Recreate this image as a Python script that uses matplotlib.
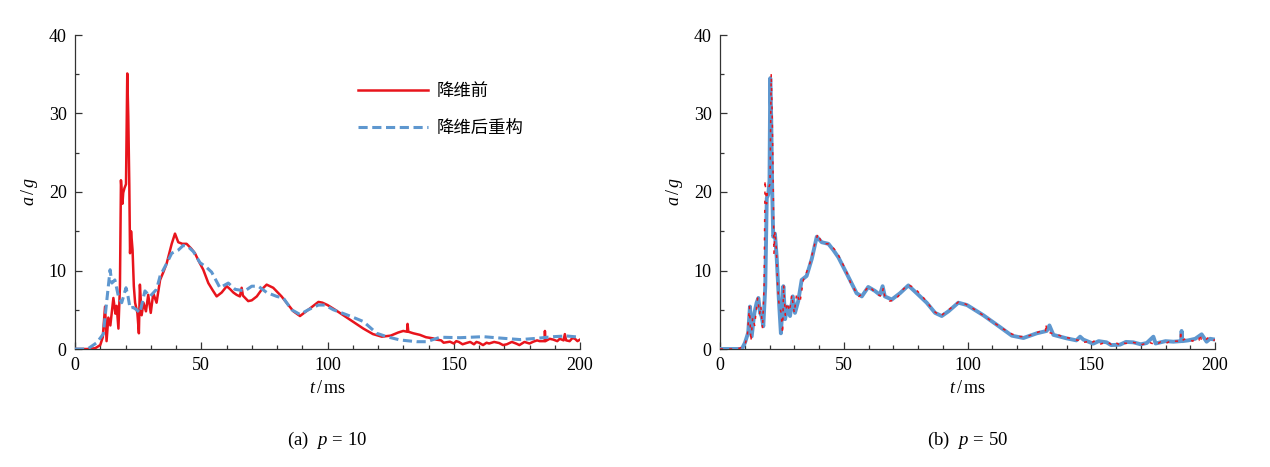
import matplotlib
matplotlib.use("Agg")
import matplotlib.pyplot as plt
from matplotlib.ticker import MultipleLocator

plt.rcParams['font.family'] = ['Liberation Serif', 'Noto Sans CJK SC']
plt.rcParams['mathtext.fontset'] = 'custom'
plt.rcParams['mathtext.rm'] = 'Liberation Serif'
plt.rcParams['mathtext.it'] = 'Liberation Serif:italic'

# original signal (before dimension reduction)
t_orig = [0, 5, 8, 10, 11, 11.9, 12.5, 13.2, 14, 15.2, 16, 16.5, 17.2, 17.8, 18.2, 18.8,
          19.1, 19.6, 20.2, 20.7, 21.1, 21.5, 21.8, 22.2, 22.8, 23.3, 23.8, 24.7, 25.3,
          25.7, 26.4, 27.1, 28.1, 29.0, 30.0, 31.0, 32.3, 33.7, 35, 36.3, 38.3, 39.6,
          40.9, 42.5, 44.2, 46, 47.5, 49, 50.8, 52.8, 54.5, 56.1, 58.1, 60.1, 61.5, 62.7,
          64, 65.3, 66.0, 66.5, 68.6, 70, 72.0, 74, 75.9, 78.5, 80, 81.8, 84, 86.5, 89.1,
          92.4, 96.4, 98, 100, 103, 106.3, 110, 114.2, 118, 121.5, 125, 128, 130, 131.5,
          131.7, 132, 134, 136.6, 139, 141.9, 143, 145, 146, 148.5, 150, 151, 152, 153.5,
          155, 156.5, 158, 159, 160, 161.6, 163, 164, 166, 168, 169.5, 171, 173, 174.8,
          176, 178, 180, 181.5, 183, 184, 186, 186.1, 186.3, 188, 189.4, 191, 192, 193.5,
          194, 194.5, 195.9, 197, 198, 199, 200]
a_orig = [0, 0, 0.1, 0.5, 1.5, 5.4, 1.0, 4.0, 3.0, 6.5, 4.5, 5.5, 2.6, 8, 21.5, 18.5,
          19.9, 20.5, 21, 35.1, 29.6, 21, 12.2, 15, 12.6, 8, 5.9, 4.6, 2.0,
          8.2, 4.3, 5.9, 4.8, 6.9, 4.6, 7.1, 5.9, 8.8, 9.8, 10.9, 13.4, 14.7,
          13.6, 13.4, 13.4, 12.8, 12.2, 11.2, 10.1, 8.4, 7.5, 6.7, 7.2, 8.0, 7.6, 7.2,
          6.9, 6.7, 7.8, 6.8, 6.1, 6.2, 6.7, 7.6, 8.2, 7.8, 7.3, 6.7, 5.8, 4.8, 4.2,
          5.0, 6.0, 5.9, 5.6, 5.0, 4.3, 3.5, 2.6, 1.9, 1.57, 1.7, 2.1, 2.3, 2.2,
          3.2, 2.2, 2.0, 1.8, 1.5, 1.35, 1.2, 1.1, 0.8, 0.93, 0.7, 1.0, 0.9, 0.6,
          0.76, 0.9, 0.6, 0.9, 0.8, 0.5, 0.8, 0.7, 0.9, 0.76, 0.5, 0.6, 0.9, 0.68,
          0.5, 0.9, 0.7, 0.93, 1.1, 1.0, 1.0, 2.3, 1.0, 1.3, 1.2, 1.0, 1.3, 1.1,
          1.9, 1.1, 1.0, 1.4, 1.3, 1.0, 1.2]

# reconstruction, p = 10
t_p10 = [0, 5, 8.6, 11.2, 12.5, 13.9, 14.6, 15.8, 17.2, 18.5, 20.2, 21, 21.8, 23, 24.4,
         25.7, 27.7, 29.7, 32.3, 33.7, 36.3, 38.3, 40.9, 42.9, 44.9, 46.9, 49.5, 52.1,
         54.1, 57.4, 60.7, 63.4, 67.3, 70, 72.6, 75.9, 79.9, 82.5, 85.8, 89.1, 92.4,
         96.4, 99, 102.3, 108.9, 114.2, 119.5, 123.5, 128.7, 135.3, 139.3, 144.6,
         152.5, 161.7, 169.7, 176.3, 182.9, 189.4, 194.7, 200]
a_p10 = [0, 0, 0.8, 1.9, 5.9, 10.1, 8.4, 8.8, 6.7, 5.9, 7.8, 6.7, 5.2, 5.3, 5.0,
         4.6, 7.4, 6.7, 7.6, 9.3, 10.9, 12.2, 12.6, 13.2, 13.0, 12.4, 11.0, 10.4,
         9.8, 7.8, 8.4, 7.6, 7.4, 8.0, 8.0, 7.2, 6.7, 6.5, 5.0, 4.4, 5.0,
         5.6, 5.6, 5.0, 4.2, 3.5, 2.0, 1.57, 1.15, 0.93, 0.93, 1.5,
         1.44, 1.57, 1.36, 1.2, 1.36, 1.57, 1.66, 1.5]

# reconstruction, p = 50
t_p50 = [0, 8.8, 10.1, 11.4, 12.1, 12.8, 13.9, 14.8, 15.5, 16.2, 16.8, 17.5, 18.3, 18.9,
         19.5, 20.0, 20.3, 20.7, 21.1, 21.5, 22.2, 22.9, 23.8, 24.6, 25.1, 25.6, 26.3,
         27.2, 28.3, 29.4, 30.3, 31.6, 33, 35, 37.1, 39.1, 41.1, 43.8, 45.8, 47.8, 51.2,
         55.2, 57.3, 59.9, 62.6, 64.6, 65.7, 66.6, 69.4, 72.7, 76.1, 79.5, 83.5, 86.9,
         89.6, 92.3, 96.3, 99.8, 106.4, 113.1, 117.9, 122.6, 128, 132, 133.1, 134.7,
         140, 144, 145.5, 146.8, 150.8, 153, 156.2, 158, 161.6, 164, 167, 170, 172.4,
         175.1, 176, 180, 183.2, 186.3, 186.5, 186.8, 189.2, 192, 194.6, 196.6, 198,
         200]
a_p50 = [0, 0, 0.8, 2.1, 5.4, 1.6, 4.6, 5.9, 6.5, 4.6, 4.2, 2.9, 8.0, 19.2,
         19.7, 21.4, 34.5, 29.3, 20.1, 14.3, 14.7, 11.7, 6.2, 2.0, 4.6, 8.0, 3.8,
         5.4, 4.2, 6.7, 4.6, 6.1, 8.8, 9.3, 11.5, 14.3, 13.6, 13.4, 12.6, 11.7, 9.6,
         7.1, 6.7, 7.9, 7.4, 6.9, 8.0, 6.7, 6.3, 7.1, 8.1, 7.1, 5.9, 4.6,
         4.2, 4.8, 5.9, 5.6, 4.3, 2.8, 1.7, 1.4, 2.0, 2.3, 3.0, 1.8,
         1.36, 1.1, 1.57, 1.2, 0.68, 1.0, 0.85, 0.5, 0.55, 0.9, 0.85, 0.6, 0.76,
         1.57, 0.7, 1.0, 0.93, 1.0, 2.3, 1.0, 1.1, 1.3, 1.87, 0.93, 1.3,
         1.2]

red = '#E8141C'
blue = '#5E97CF'
captions = [r'(a)  $p\,{=}\,10$', r'(b)  $p\,{=}\,50$']

fig = plt.figure(figsize=(12.7, 4.67), dpi=100)
ax1 = fig.add_axes([75 / 1270, 1 - 349 / 467, 505 / 1270, 314 / 467])
ax2 = fig.add_axes([720 / 1270, 1 - 349 / 467, 495 / 1270, 314 / 467])

ax1.plot(t_orig, a_orig, color=red, lw=1.8, label='降维前', zorder=3)
ax1.plot(t_p10, a_p10, color=blue, lw=2.2, ls=(0, (3, 1.5)), label='降维后重构', zorder=4)
ax1.legend(loc='upper left', bbox_to_anchor=(0.53, 0.90), frameon=False,
           prop={'family': 'Noto Sans CJK SC', 'size': 12.5},
           handlelength=4.0, labelspacing=1.1, handletextpad=0.5)

ax2.plot(t_p50, a_p50, color=blue, lw=2.8, zorder=3)
ax2.plot(t_orig, a_orig, color=red, lw=1.1, ls=(0, (2, 4)), zorder=4)

for ax, cap in zip([ax1, ax2], captions):
    ax.set_xlim(0, 200)
    ax.set_ylim(0, 40)
    ax.xaxis.set_major_locator(MultipleLocator(50))
    ax.xaxis.set_minor_locator(MultipleLocator(10))
    ax.yaxis.set_major_locator(MultipleLocator(10))
    ax.yaxis.set_minor_locator(MultipleLocator(5))
    ax.spines['top'].set_visible(False)
    ax.spines['right'].set_visible(False)
    for s in ['left', 'bottom']:
        ax.spines[s].set_color('#333333')
        ax.spines[s].set_linewidth(0.9)
    ax.tick_params(which='major', direction='in', length=5, width=0.9,
                   color='#333333', labelsize=13, pad=6)
    ax.tick_params(which='minor', direction='in', length=3, width=0.9, color='#333333')
    ax.set_xlabel(r'$t\,/\,\mathrm{ms}$', fontsize=13, labelpad=4)
    ax.set_ylabel(r'$a\,/\,g$', fontsize=13, labelpad=6)
    ax.text(0.5, -0.29, cap, transform=ax.transAxes, ha='center', va='center',
            fontsize=13.5)

fig.savefig('out.png', dpi=100)
